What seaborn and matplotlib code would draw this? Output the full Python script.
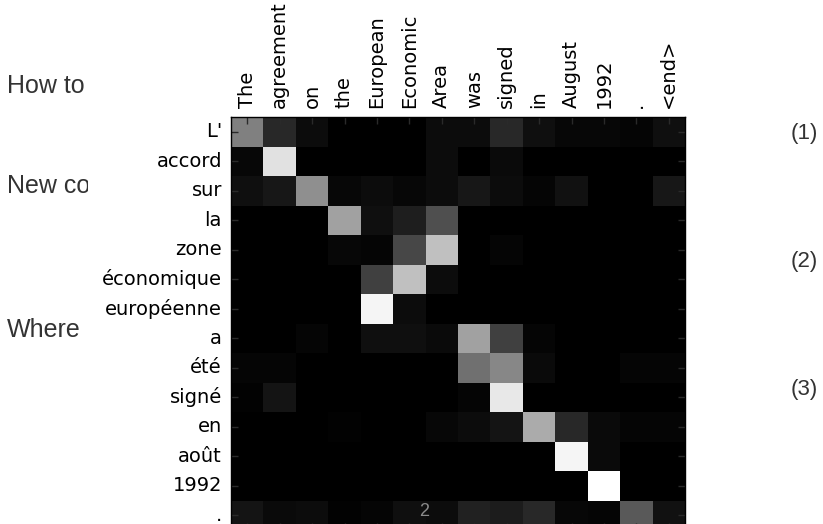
import numpy as np
import pandas as pd
import matplotlib
matplotlib.use("Agg")
import matplotlib.pyplot as plt
from matplotlib.transforms import Bbox, TransformedBbox
import seaborn as sns

# source sentence (columns) and translation (rows)
source_words = ["The", "agreement", "on", "the", "European", "Economic", "Area",
                "was", "signed", "in", "August", "1992", ".", "<end>"]
target_words = ["L'", "accord", "sur", "la", "zone", "économique", "européenne",
                "a", "été", "signé", "en", "août", "1992", "."]

# attention weights, one row per target word
attention = [
    [0.50, 0.16, 0.05, 0.00, 0.00, 0.00, 0.05, 0.05, 0.16, 0.06, 0.03, 0.03, 0.02, 0.06],
    [0.03, 0.88, 0.00, 0.00, 0.00, 0.00, 0.05, 0.00, 0.04, 0.00, 0.00, 0.00, 0.00, 0.00],
    [0.06, 0.09, 0.56, 0.03, 0.05, 0.03, 0.05, 0.09, 0.05, 0.02, 0.07, 0.00, 0.00, 0.09],
    [0.00, 0.00, 0.00, 0.63, 0.06, 0.12, 0.31, 0.00, 0.00, 0.00, 0.00, 0.00, 0.00, 0.00],
    [0.00, 0.00, 0.00, 0.03, 0.02, 0.28, 0.75, 0.00, 0.02, 0.00, 0.00, 0.00, 0.00, 0.00],
    [0.00, 0.00, 0.00, 0.00, 0.25, 0.75, 0.05, 0.00, 0.00, 0.00, 0.00, 0.00, 0.00, 0.00],
    [0.00, 0.00, 0.00, 0.00, 0.96, 0.05, 0.00, 0.00, 0.00, 0.00, 0.00, 0.00, 0.00, 0.00],
    [0.00, 0.00, 0.02, 0.00, 0.06, 0.06, 0.04, 0.63, 0.25, 0.02, 0.00, 0.00, 0.00, 0.00],
    [0.02, 0.02, 0.00, 0.00, 0.00, 0.00, 0.00, 0.44, 0.53, 0.04, 0.00, 0.00, 0.02, 0.02],
    [0.01, 0.08, 0.00, 0.00, 0.00, 0.00, 0.00, 0.02, 0.91, 0.00, 0.00, 0.00, 0.00, 0.00],
    [0.00, 0.00, 0.00, 0.01, 0.00, 0.00, 0.03, 0.05, 0.08, 0.67, 0.16, 0.04, 0.02, 0.02],
    [0.00, 0.00, 0.00, 0.00, 0.00, 0.00, 0.00, 0.00, 0.00, 0.00, 0.96, 0.04, 0.00, 0.00],
    [0.00, 0.00, 0.00, 0.00, 0.00, 0.00, 0.00, 0.00, 0.00, 0.00, 0.00, 1.00, 0.00, 0.00],
    [0.08, 0.04, 0.05, 0.01, 0.02, 0.06, 0.05, 0.13, 0.11, 0.16, 0.03, 0.02, 0.35, 0.07],
]

# page text around the figure
left_text = ["How to", "New co", "Where"]
right_text = ["(1)", "(2)", "(3)"]
page_number = "2"

W, H = 823, 524
fig = plt.figure(figsize=(W / 100, H / 100), dpi=100)

# heatmap axes (runs past the bottom edge, like the cropped page)
ax = fig.add_axes([231 / W, 1 - 530 / H, 454 / W, 413 / H])
df = pd.DataFrame(attention, index=target_words, columns=source_words)
sns.heatmap(df, cmap="gray", vmin=0, vmax=1, cbar=False, ax=ax)

ax.xaxis.tick_top()
ax.set_xticklabels(source_words, rotation=90, fontsize=14, family="DejaVu Sans")
ax.set_yticklabels(target_words, rotation=0, fontsize=14, family="DejaVu Sans")
ax.set_xlabel("")
ax.set_ylabel("")
ax.tick_params(direction="in", length=5, width=1, color="#2a2a2a", pad=6.5,
               top=True, bottom=True, left=True, right=True,
               labeltop=True, labelbottom=False)
for s in ax.spines.values():
    s.set_visible(True)
    s.set_color("black")
    s.set_linewidth(1)

# text of the page behind the figure (cut where the figure starts)
clip = TransformedBbox(Bbox([[0, 0], [88 / W, 1]]), fig.transFigure)
for label, py in zip(left_text, [86, 186, 330]):
    t = fig.text(7 / W, 1 - py / H, label, fontsize=18, color="#333333",
                 family="Liberation Sans", va="center", ha="left", zorder=-2)
    t.set_clip_box(clip)
    t.set_clip_on(True)
for label, py in zip(right_text, [134, 262, 390]):
    fig.text(791 / W, 1 - py / H, label, fontsize=16, color="#333333",
             family="Liberation Sans", va="center", ha="left")

fig.text(424 / W, 1 - 511 / H, page_number, fontsize=13, color="#8a8a8a",
         family="Liberation Sans", va="center", ha="center", zorder=5)

fig.savefig("out.png", dpi=100)
